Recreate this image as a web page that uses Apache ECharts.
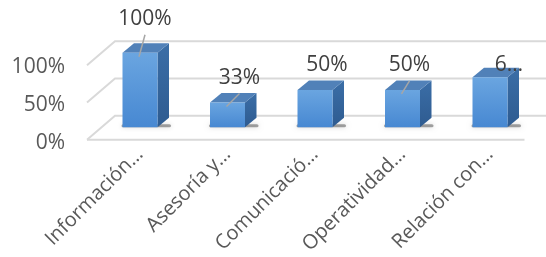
<!DOCTYPE html>
<html>
<head>
<meta charset="UTF-8">
<title></title>
<script src="https://cdn.jsdelivr.net/npm/echarts@6/dist/echarts.min.js"></script>
<style>
  html, body { margin: 0; padding: 0; background: #fff; }
  #main { width: 546px; height: 257px; }
</style>
</head>
<body>
<div id="main"></div>
<script>
// data
var categories = ['Información…', 'Asesoría y…', 'Comunicació…', 'Operatividad…', 'Relación con…'];
var values = [100, 33, 50, 50, 67];
var valueLabels = ['100%', '33%', '50%', '50%', '6…'];
var yTicks = [0, 50, 100];

// label placement relative to bar top (Excel auto placement), leader line or not
var labelOffsets = [[5, -34], [12, -25], [12, -25], [7, -25], [19, -12]];
var labelLeaders = [true, true, false, true, false];

var FONT = 'Open Sans';
var depth = [11.5, -9.5];     // bar depth
var gridFront = [-9.25, 12.5]; // front edge of floor/walls relative to bar plane
var gridBack = [18.75, -11.5]; // back wall relative to bar plane

var myChart = echarts.init(document.getElementById('main'));

function renderGrid(params, api) {
  var v = api.value(0);
  var band = api.size([1, 0])[0];
  var p = api.coord([0, v]);
  var left = p[0] - band / 2;
  var y = p[1];
  var fl = [left + gridFront[0], y + gridFront[1]];
  var bl = [left + gridBack[0], y + gridBack[1]];
  var br = [api.coord([categories.length - 1, v])[0] + band / 2 + gridBack[0], y + gridBack[1]];
  var children = [{
    type: 'polyline',
    shape: { points: [fl, bl, br] },
    style: { stroke: '#d9d9d9', lineWidth: 2, fill: null }
  }];
  if (v === 0) {
    var fr = [api.coord([categories.length - 1, v])[0] + band / 2 + gridFront[0], y + gridFront[1]];
    children.push({
      type: 'line',
      shape: { x1: fl[0], y1: fl[1], x2: fr[0], y2: fr[1] },
      style: { stroke: '#d9d9d9', lineWidth: 2 }
    });
  }
  return { type: 'group', children: children };
}

function renderBar(params, api) {
  var i = api.value(0);
  var v = api.value(1);
  var top = api.coord([i, v]);
  var base = api.coord([i, 0]);
  var w = api.size([1, 0])[0] * 0.4;
  var x0 = top[0] - w / 2, x1 = top[0] + w / 2;
  var ty = top[1], by = base[1];
  var dx = depth[0], dy = depth[1];
  var off = labelOffsets[params.dataIndex];
  var lx = top[0] + off[0], ly = ty + off[1];
  var children = [
    { // soft shadow at base
      type: 'rect',
      shape: { x: x0 - 1, y: by - 3, width: w + dx + 3, height: 3, r: 1.5 },
      style: { fill: 'rgba(0,0,0,0.35)', shadowBlur: 5, shadowColor: 'rgba(0,0,0,0.5)' }
    },
    {
      type: 'polygon',
      shape: { points: [[x1, ty], [x1 + dx, ty + dy], [x1 + dx, by + dy], [x1, by]] },
      style: { fill: new echarts.graphic.LinearGradient(0, 0, 0, 1, [
        { offset: 0, color: '#3b6ea7' }, { offset: 1, color: '#2e5b90' }]) }
    },
    {
      type: 'polygon',
      shape: { points: [[x0, ty], [x1, ty], [x1 + dx, ty + dy], [x0 + dx, ty + dy]] },
      style: { fill: '#5181b8' }
    },
    {
      type: 'rect',
      shape: { x: x0, y: ty, width: w, height: by - ty },
      style: { fill: new echarts.graphic.LinearGradient(0, 0, 0, 1, [
        { offset: 0, color: '#6aa5e0' }, { offset: 1, color: '#4788d2' }]) }
    }
  ];
  if (labelLeaders[params.dataIndex]) {
    children.push({
      type: 'line',
      shape: { x1: top[0] - 1, y1: ty + 4, x2: lx, y2: ly + 16 },
      style: { stroke: '#a6a6a6', lineWidth: 1.5 }
    });
  }
  children.push({
    type: 'text',
    style: {
      x: lx, y: ly, text: valueLabels[params.dataIndex],
      fill: '#404040', font: '21px "' + FONT + '"',
      align: 'center', verticalAlign: 'middle'
    }
  });
  return { type: 'group', children: children };
}

var option = {
  animation: false,
  grid: [
    { left: 96.25, right: 12.25, top: 52.7, bottom: 128.5 },
    { left: 87, right: 12, top: 67.5, bottom: 114 }
  ],
  xAxis: [{
    gridIndex: 0,
    type: 'category',
    data: categories,
    axisLine: { show: false },
    axisTick: { show: false },
    axisLabel: {
      interval: 0, rotate: 45, margin: 24,
      color: '#595959', fontSize: 20, fontFamily: FONT
    }
  }, {
    gridIndex: 1, type: 'category', data: categories, show: false
  }],
  yAxis: [{
    gridIndex: 0, type: 'value', min: 0, max: 100, interval: 50,
    show: false
  }, {
    gridIndex: 1, type: 'value', min: 0, max: 100, interval: 50,
    axisLine: { show: false },
    axisTick: { show: false },
    splitLine: { show: false },
    axisLabel: {
      margin: 22, formatter: '{value}%',
      color: '#595959', fontSize: 21, fontFamily: FONT
    }
  }],
  series: [{
    type: 'custom',
    xAxisIndex: 0, yAxisIndex: 0,
    renderItem: renderGrid,
    data: yTicks.map(function (t) { return [t]; }),
    encode: { y: 0 },
    z: 1,
    silent: true
  }, {
    type: 'custom',
    xAxisIndex: 0, yAxisIndex: 0,
    renderItem: renderBar,
    data: values.map(function (v, i) { return [i, v]; }),
    encode: { x: 0, y: 1 },
    z: 2
  }]
};
myChart.setOption(option);
</script>
</body>
</html>
